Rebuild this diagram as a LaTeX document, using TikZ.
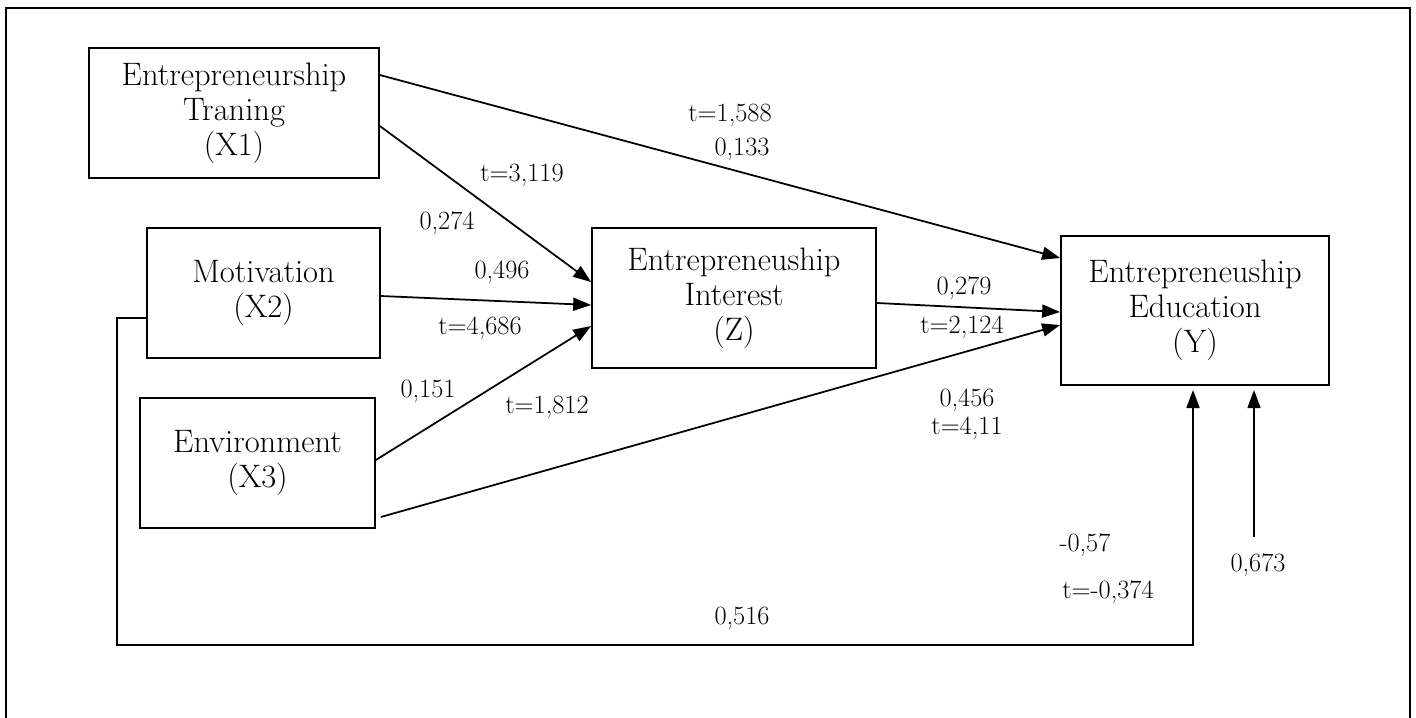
\documentclass[tikz,border=0pt]{standalone}
\usetikzlibrary{arrows.meta}
\begin{document}
\begin{tikzpicture}[x=0.02cm, y=-0.02cm]
    \tikzset{var node/.style={draw, line width=1pt, align=center, inner sep=0pt, font=\fontsize{18.5}{20}\selectfont},
             path arrow/.style={line width=1pt, -{Triangle[length=0.36cm, width=0.26cm]}},
             coef/.style={font=\fontsize{15}{17}\selectfont, inner sep=0pt}}

    \useasboundingbox (0,0) rectangle (1416,717);

    % Outer frame (its bottom edge lies below the page)
    \draw[line width=1.4pt] (6,740) -- (6,8) -- (1410,8) -- (1410,740);

    % Exogenous variables
    \node[var node, minimum width=5.8cm, minimum height=2.6cm] (x1) at (234,113) {Entrepreneurship\\Traning\\(X1)};
    \node[var node, minimum width=4.66cm, minimum height=2.6cm] (x2) at (263.5,293) {Motivation\\(X2)};
    \node[var node, minimum width=4.7cm, minimum height=2.6cm] (x3) at (257.5,463) {Environment\\(X3)};

    % Intervening variable
    \node[var node, minimum width=5.68cm, minimum height=2.8cm] (z) at (734,298) {Entrepreneuship\\Interest\\(Z)};

    % Endogenous variable
    \node[var node, minimum width=5.36cm, minimum height=2.98cm] (y) at (1195,310.5) {Entrepreneuship\\Education\\(Y)};

    % Paths into Z
    \draw[path arrow] (x1.east |- 0,126) -- (z.west |- 0,282);
    \draw[path arrow] (x2.east |- 0,296) -- (z.west |- 0,305);
    \draw[path arrow] (x3.east |- 0,460) -- (z.west |- 0,326);

    % Paths into Y
    \draw[path arrow] (x1.east |- 0,75) -- (y.west |- 0,258);
    \draw[path arrow] (z.east |- 0,303) -- (y.west |- 0,312);
    \draw[path arrow] ([xshift=0.1cm]x3.east |- 0,517) -- (y.west |- 0,325);

    % Path from X2 round the bottom into Y
    \coordinate (fb left) at (117,645);
    \coordinate (fb right) at (1193,645);
    \draw[path arrow] (x2.west |- 0,318) -| (fb left) -- (fb right) -- (fb right |- 0,390);

    % Error term of Y
    \coordinate (err) at (1254,537);
    \draw[line width=0.7pt, -{Triangle[length=0.36cm, width=0.26cm]}] (err) -- (err |- 0,390);

    % Coefficients and t values
    \node[coef] (c1) at (730,115) {t=1,588};
    \node[coef] (c2) at (742,149) {0,133};
    \node[coef] (c3) at (522,175) {t=3,119};
    \node[coef] (c4) at (447,223) {0,274};
    \node[coef] (c5) at (502,272) {0,496};
    \node[coef] (c6) at (480,328) {t=4,686};
    \node[coef] (c7) at (428,391) {0,151};
    \node[coef] (c8) at (547,407) {t=1,812};
    \node[coef] (c9) at (964,288) {0,279};
    \node[coef] (c10) at (962,327) {t=2,124};
    \node[coef] (c11) at (967,400) {0,456};
    \node[coef] (c12) at (967,428) {t=4,11};
    \node[coef] (c13) at (1085,545) {-0,57};
    \node[coef] (c14) at (1108,592) {t=-0,374};
    \node[coef] (c15) at (1258,565) {0,673};
    \node[coef] (c16) at (742,618) {0,516};

\end{tikzpicture}
\end{document}
